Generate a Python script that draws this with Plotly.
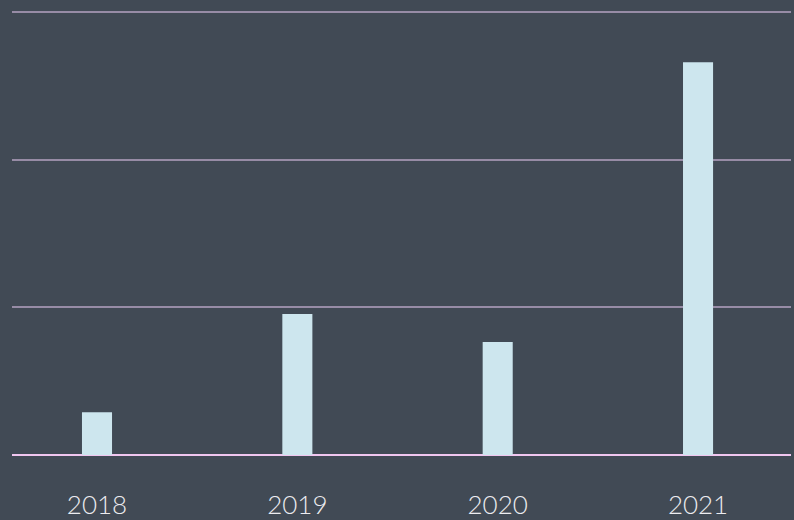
import plotly.graph_objects as go

years = ["2018", "2019", "2020", "2021"]
values = [2.9, 9.55, 7.65, 26.6]

fig = go.Figure(
    go.Bar(
        x=years,
        y=values,
        marker=dict(color="#cde6ee", line=dict(width=0)),
        width=0.15,
    )
)

fig.update_layout(
    width=794,
    height=520,
    margin=dict(l=12, r=3, t=11, b=65, pad=0, autoexpand=False),
    paper_bgcolor="#414a55",
    plot_bgcolor="#414a55",
    showlegend=False,
    font=dict(family="Lato, sans-serif", color="#ececf0", size=26),
    xaxis=dict(
        type="category",
        range=[-0.4243, 3.464],
        automargin=False,
        showgrid=False,
        showline=False,
        zeroline=False,
        ticks="outside",
        ticklen=27,
        tickcolor="rgba(0,0,0,0)",
        tickfont=dict(size=26, color="#ececf0", weight=300),
    ),
    yaxis=dict(
        range=[0, 30.07],
        tickvals=[0, 10, 20, 30],
        automargin=False,
        showgrid=True,
        gridcolor="#978ca6",
        gridwidth=2,
        zeroline=True,
        zerolinecolor="#f0c6ef",
        zerolinewidth=2,
        showticklabels=False,
        showline=False,
    ),
)

fig.write_html(
    "out.html",
    config={"displayModeBar": False},
    post_script="document.body.style.margin='0';document.body.style.background='#414a55';",
)
